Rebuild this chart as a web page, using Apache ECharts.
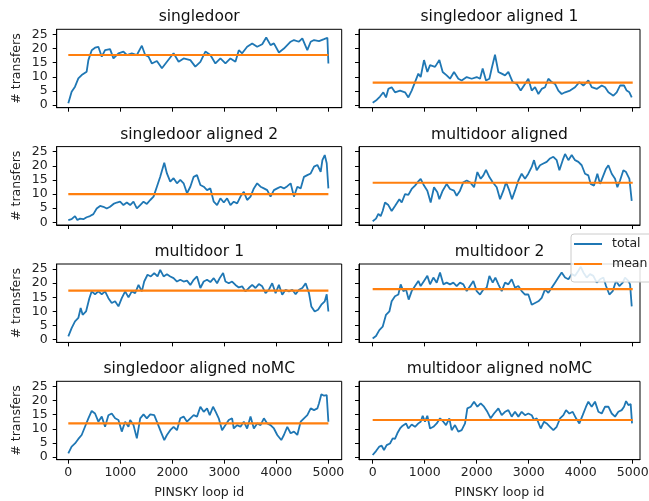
<!DOCTYPE html>
<html><head><meta charset="utf-8">
<script src="https://cdn.jsdelivr.net/npm/echarts@6/dist/echarts.min.js"></script>
<style>html,body{margin:0;padding:0;background:#fff}#c{width:649px;height:501px}</style>
</head><body><div id="c"></div>
<script>
const titles = ['singledoor','singledoor aligned 1','singledoor aligned 2','multidoor aligned','multidoor 1','multidoor 2','singledoor aligned noMC','multidoor aligned noMC'];
const means = [17.7, 7.9, 10.0, 14.0, 17.4, 17.9, 11.9, 13.1];
const xTicks = [0,1000,2000,3000,4000,5000];
const yTicks = [0,5,10,15,20,25];
const xAxisName = 'PINSKY loop id';
const yAxisName = '# transfers';

const singledoor = [[0,0.6],[64,4.7],[129,6.5],[193,9.4],[257,10.6],[289,10.0],[353,11.8],[386,15.9],[450,19.4],[514,20.3],[578,20.6],[643,17.1],[707,19.4],[803,19.8],[868,16.5],[964,18.3],[1060,18.9],[1125,17.7],[1221,18.3],[1318,17.7],[1414,21.0],[1478,17.7],[1542,17.1],[1607,14.7],[1703,15.6],[1800,13.0],[1896,15.3],[2024,18.3],[2121,15.3],[2217,16.5],[2346,15.9],[2442,13.6],[2539,15.3],[2635,18.9],[2731,17.7],[2828,14.7],[2924,16.5],[3021,14.7],[3117,16.5],[3213,15.3],[3278,19.4],[3342,18.3],[3438,20.6],[3535,21.8],[3631,20.6],[3728,21.5],[3805,23.9],[3888,21.2],[3953,21.8],[4049,18.6],[4145,20.0],[4274,22.4],[4338,23.0],[4434,22.4],[4499,23.6],[4595,19.4],[4660,22.4],[4724,23.0],[4820,22.6],[4917,23.3],[4981,23.8],[5000,14.7]];

const singledoorAligned1 = [[0,0.8],[77,1.8],[141,3.0],[205,4.5],[256,2.7],[301,5.7],[365,6.3],[429,4.5],[526,5.1],[622,4.5],[686,2.7],[750,5.1],[814,8.1],[878,11.1],[923,9.9],[987,15.9],[1051,11.7],[1103,14.1],[1199,13.5],[1282,15.9],[1346,11.7],[1423,10.5],[1487,9.3],[1564,11.7],[1647,9.3],[1711,8.7],[1808,9.9],[1904,9.3],[2000,9.9],[2064,9.3],[2115,12.9],[2179,8.7],[2244,9.3],[2288,12.9],[2352,17.8],[2417,11.7],[2481,11.1],[2545,10.5],[2609,11.7],[2692,8.1],[2769,7.5],[2846,5.1],[2910,6.9],[2993,9.3],[3058,5.1],[3122,6.3],[3186,3.9],[3250,5.7],[3314,6.3],[3378,9.3],[3442,8.1],[3506,7.5],[3570,5.1],[3634,3.9],[3699,4.5],[3795,5.1],[3891,6.3],[3974,8.1],[4051,6.9],[4147,8.7],[4211,6.3],[4308,5.7],[4404,6.9],[4468,6.3],[4532,4.5],[4628,3.3],[4692,4.5],[4756,6.9],[4833,6.9],[4884,5.1],[4936,4.5],[4981,2.7]];

const singledoorAligned2 = [[0,0.8],[64,1.1],[129,2.2],[174,0.8],[225,1.3],[289,1.1],[353,1.8],[418,2.2],[482,2.9],[546,4.9],[611,5.8],[675,5.5],[739,4.9],[803,5.5],[868,6.5],[932,7.0],[996,7.3],[1060,6.1],[1125,7.0],[1189,6.1],[1253,7.3],[1318,4.9],[1382,6.1],[1446,7.3],[1510,6.5],[1575,7.9],[1639,9.1],[1703,12.6],[1767,16.1],[1845,21.1],[1896,17.3],[1960,14.4],[2024,15.6],[2089,13.8],[2153,15.0],[2217,13.8],[2282,10.3],[2346,12.6],[2410,16.1],[2474,16.7],[2539,13.2],[2603,12.6],[2667,11.4],[2731,12.0],[2796,7.3],[2860,6.1],[2924,8.5],[2989,7.0],[3053,8.5],[3117,6.1],[3181,7.3],[3246,6.7],[3310,9.1],[3374,10.8],[3438,7.9],[3503,9.1],[3567,12.0],[3631,13.8],[3696,12.6],[3760,12.0],[3824,11.4],[3888,9.1],[3953,11.4],[4017,12.0],[4081,12.6],[4145,12.0],[4210,12.8],[4274,13.8],[4338,9.1],[4403,12.6],[4467,12.0],[4531,16.1],[4595,16.7],[4660,17.3],[4724,19.7],[4788,20.3],[4852,17.9],[4885,22.0],[4930,23.8],[4968,20.9],[5000,12.0]];

const multidoorAligned = [[0,0.4],[64,1.3],[109,3.0],[154,2.2],[192,4.0],[237,7.0],[301,6.1],[365,4.0],[429,5.8],[513,8.2],[558,7.0],[622,10.0],[686,9.7],[750,11.8],[814,13.0],[878,14.5],[923,15.4],[987,13.0],[1051,11.2],[1115,7.0],[1179,12.4],[1244,10.6],[1282,8.2],[1346,11.2],[1423,13.6],[1487,11.8],[1564,11.2],[1615,9.4],[1679,11.2],[1744,14.2],[1808,14.8],[1872,14.2],[1949,12.4],[2013,17.8],[2077,15.4],[2128,16.6],[2179,18.6],[2244,16.0],[2308,14.2],[2385,12.4],[2449,8.2],[2513,11.2],[2564,14.2],[2628,11.2],[2679,8.2],[2737,11.2],[2801,14.8],[2865,17.2],[2929,15.4],[2993,17.2],[3058,19.6],[3102,22.0],[3154,18.4],[3218,20.2],[3282,20.8],[3346,21.4],[3410,22.6],[3474,23.2],[3538,22.0],[3590,18.4],[3654,22.0],[3699,24.2],[3763,22.0],[3827,23.8],[3891,22.0],[3955,21.4],[4019,20.2],[4083,17.2],[4147,16.6],[4192,13.6],[4256,13.0],[4320,17.2],[4372,13.6],[4423,16.0],[4487,19.0],[4532,20.2],[4596,17.2],[4660,15.4],[4705,12.4],[4756,14.8],[4820,18.4],[4872,17.8],[4936,15.4],[4981,7.6]];

const multidoor1 = [[0,1.2],[64,4.1],[129,6.5],[193,7.7],[238,11.2],[276,8.8],[341,10.0],[405,14.7],[450,17.1],[514,16.1],[578,17.1],[643,16.1],[707,17.1],[771,14.7],[835,13.0],[900,13.6],[964,11.8],[1028,14.7],[1093,17.1],[1157,15.0],[1221,17.1],[1285,16.5],[1350,19.4],[1414,17.1],[1459,20.6],[1523,23.0],[1587,22.4],[1652,23.6],[1716,22.4],[1767,24.7],[1832,22.4],[1896,23.2],[1960,22.4],[2024,21.8],[2089,20.6],[2153,21.2],[2217,20.6],[2282,20.9],[2346,19.4],[2410,21.2],[2474,22.4],[2539,18.3],[2603,20.6],[2667,21.2],[2731,20.4],[2796,21.8],[2860,20.0],[2911,21.8],[2976,23.6],[3021,20.6],[3085,20.0],[3149,20.6],[3213,19.4],[3278,18.5],[3342,18.9],[3406,17.1],[3470,18.3],[3535,19.4],[3599,18.3],[3663,19.7],[3728,18.9],[3792,16.5],[3856,17.7],[3920,20.0],[3985,16.5],[4049,19.4],[4113,15.9],[4178,17.7],[4242,17.1],[4306,17.7],[4370,16.1],[4435,17.7],[4499,18.3],[4563,20.0],[4627,16.5],[4672,11.8],[4737,10.0],[4801,10.6],[4865,12.4],[4930,13.6],[4968,16.1],[5000,10.0]];

const multidoor2X = [0,64,128,192,256,321,365,429,494,538,590,641,692,750,814,878,923,987,1051,1103,1167,1231,1295,1359,1423,1487,1551,1615,1679,1744,1808,1872,1936,2000,2064,2128,2192,2244,2308,2359,2417,2481,2545,2609,2673,2737,2801,2865,2929,2993,3058,3122,3186,3250,3314,3378,3442,3506,3570,3634,3699,3763,3827,3891,3955,4000,4051,4115,4179,4243,4308,4372,4436,4487,4551,4615,4679,4743,4808,4852,4916,4949,4981];
const multidoor2Y = [0.4,1.3,3.4,4.6,8.8,10.0,13.6,15.4,16.0,19.6,17.2,17.8,14.2,17.2,19.0,20.8,19.0,20.8,22.6,19.6,22.0,20.2,23.8,19.6,20.2,19.6,20.2,19.0,20.2,19.6,17.2,19.0,20.8,17.2,16.0,17.8,18.4,22.6,20.2,22.0,19.6,17.2,20.2,19.6,21.4,18.4,19.0,17.2,16.0,16.0,12.4,13.0,13.6,14.8,17.8,16.6,18.4,20.2,22.0,23.8,22.0,21.4,23.2,22.6,24.4,25.8,23.8,22.0,23.2,22.6,20.2,21.4,22.0,19.0,16.0,17.2,20.8,19.0,20.2,22.0,20.8,19.6,11.8];

const singledoorNoMCX = [0,64,129,193,257,321,386,450,514,578,643,707,771,835,900,964,1028,1093,1157,1189,1253,1318,1382,1446,1510,1575,1652,1703,1767,1845,1896,1960,2024,2089,2153,2217,2282,2346,2410,2474,2539,2603,2667,2719,2783,2834,2892,2956,3021,3085,3149,3181,3246,3310,3374,3438,3503,3567,3631,3696,3760,3824,3888,3953,4017,4094,4145,4210,4274,4338,4403,4467,4531,4595,4660,4724,4788,4820,4865,4917,4968,5000];
const singledoorNoMCY = [1.3,3.7,4.8,6.4,7.8,10.7,13.7,16.3,15.4,12.5,14.3,10.7,14.8,15.4,13.7,13.1,9.0,12.5,10.7,13.1,11.3,6.6,13.7,15.1,13.7,15.1,14.8,12.5,9.5,6.0,7.8,9.5,10.7,9.5,13.7,14.3,12.5,13.7,14.8,14.3,17.8,16.0,17.2,14.8,17.8,16.0,13.7,9.5,11.3,13.1,13.7,10.1,11.3,10.7,12.5,10.1,14.3,10.1,11.9,11.3,13.7,11.9,11.3,10.1,7.8,6.0,7.8,10.7,8.4,9.0,7.8,12.5,13.7,14.8,17.2,16.6,17.2,19.0,22.2,21.7,21.9,12.5];

const multidoorNoMCX = [0,64,128,173,218,269,333,385,429,474,526,577,641,686,750,814,878,923,962,1006,1051,1103,1167,1231,1295,1359,1410,1474,1519,1583,1647,1711,1776,1820,1885,1949,2013,2077,2141,2205,2269,2333,2417,2481,2545,2609,2673,2737,2801,2865,2929,2993,3058,3102,3154,3231,3295,3346,3410,3474,3538,3603,3667,3718,3782,3846,3910,3974,4038,4102,4147,4211,4275,4340,4404,4468,4532,4596,4660,4724,4788,4833,4872,4916,4961,4987];
const multidoorNoMCY = [0.7,2.1,3.7,4.0,2.5,4.2,4.8,6.6,6.4,8.4,10.1,11.1,11.9,10.1,11.5,10.7,11.9,12.5,14.6,12.5,14.6,10.1,10.7,11.9,13.7,12.5,11.3,13.7,9.5,11.3,9.0,9.5,11.9,17.2,17.8,19.6,17.8,19.0,17.8,16.0,13.7,15.4,17.2,14.8,16.0,16.6,14.3,16.0,14.3,16.0,14.8,15.4,14.8,13.1,13.7,10.1,12.5,11.9,10.7,9.5,10.7,13.7,14.8,16.6,15.4,16.0,13.7,11.9,14.8,17.8,19.6,17.8,19.6,16.0,15.4,17.8,17.8,15.4,14.3,16.0,16.6,17.8,19.8,18.4,18.7,11.9];

const zip = (xs, ys) => xs.map((x, i) => [x, ys[i]]);
const panels = [singledoor, singledoorAligned1, singledoorAligned2, multidoorAligned, multidoor1,
  zip(multidoor2X, multidoor2Y), zip(singledoorNoMCX, singledoorNoMCY), zip(multidoorNoMCX, multidoorNoMCY)];

const FONT = 'DejaVu Sans';
const colLeft = [56.7, 359];
const colWidth = [285, 281];
const colXMin = [-223, -263];
const colXMax = [5256, 5140];
const rowTop = [29.3, 146.6, 264, 381.3];
const rowH = 78.4;
const yMin = -0.95, yMax = 26.8;

const grids = [], xAxes = [], yAxes = [], series = [], titleList = [];
panels.forEach((pts, i) => {
  const row = Math.floor(i / 2), col = i % 2;
  grids.push({left: colLeft[col], top: rowTop[row], width: colWidth[col], height: rowH,
    show: true, borderColor: '#000', borderWidth: 1, backgroundColor: '#fff', containLabel: false, outerBoundsMode: 'none'});
  xAxes.push({type: 'value', gridIndex: i, min: colXMin[col], max: colXMax[col],
    axisLine: {show: true, onZero: false, lineStyle: {color: '#000', width: 1}},
    splitLine: {show: false},
    axisTick: {show: true, inside: false, length: 4, customValues: xTicks, lineStyle: {color: '#000', width: 1}},
    axisLabel: {show: row === 3, customValues: xTicks, formatter: v => String(v),
      color: '#222', fontSize: 12.5, fontFamily: FONT, margin: 7},
    name: row === 3 ? xAxisName : '', nameLocation: 'middle', nameGap: 27,
    nameTextStyle: {color: '#222', fontSize: 12.5, fontFamily: FONT}});
  yAxes.push({type: 'value', gridIndex: i, min: yMin, max: yMax,
    axisLine: {show: true, onZero: false, lineStyle: {color: '#000', width: 1}},
    splitLine: {show: false},
    axisTick: {show: true, inside: false, length: 4, customValues: yTicks, lineStyle: {color: '#000', width: 1}},
    axisLabel: {show: col === 0, customValues: yTicks, formatter: v => String(v),
      color: '#222', fontSize: 12.5, fontFamily: FONT, margin: 9},
    name: col === 0 ? yAxisName : '', nameLocation: 'middle', nameGap: 33,
    nameTextStyle: {color: '#222', fontSize: 12.5, fontFamily: FONT}});
  series.push({type: 'line', name: 'total', xAxisIndex: i, yAxisIndex: i, data: pts,
    showSymbol: false, symbol: 'none', lineStyle: {color: '#1f77b4', width: 1.8}, itemStyle: {color: '#1f77b4'}, z: 2});
  series.push({type: 'line', name: 'mean', xAxisIndex: i, yAxisIndex: i,
    data: [[xTicks[0], means[i]], [xTicks[xTicks.length - 1], means[i]]],
    showSymbol: false, symbol: 'none', lineStyle: {color: '#ff7f0e', width: 2.2}, itemStyle: {color: '#ff7f0e'}, z: 3});
  titleList.push({text: titles[i], left: colLeft[col] + colWidth[col] / 2, top: rowTop[row] - 20,
    textAlign: 'center', padding: 0,
    textStyle: {fontSize: 15.5, fontWeight: 'normal', color: '#111', fontFamily: FONT}});
});

const chart = echarts.init(document.getElementById('c'), null, {renderer: 'canvas'});
chart.setOption({
  animation: false,
  backgroundColor: '#fff',
  title: titleList,
  grid: grids,
  xAxis: xAxes,
  yAxis: yAxes,
  legend: {data: ['total', 'mean'], orient: 'vertical', left: 571, top: 234, z: 20,
    icon: 'rect', itemWidth: 28, itemHeight: 2, itemGap: 6,
    padding: [3, 40, 11, 3],
    backgroundColor: 'rgba(255,255,255,0.85)', borderColor: '#cccccc', borderWidth: 1, borderRadius: 3,
    textStyle: {fontSize: 12.5, fontFamily: FONT, color: '#222', lineHeight: 14, padding: [0, 0, 0, 5]}},
  series: series
});
</script>
</body></html>
